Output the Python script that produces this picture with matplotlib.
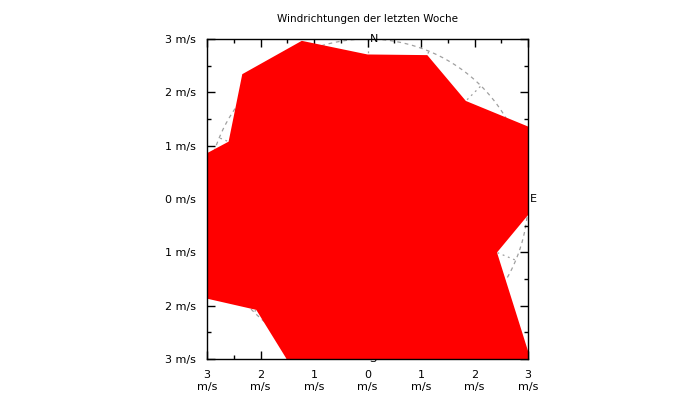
import numpy as np
import matplotlib
matplotlib.use("Agg")
import matplotlib.pyplot as plt

# Windrichtungen (16 Sektoren, im Uhrzeigersinn ab Nord) und mittlere Geschwindigkeit in m/s
richtungen = ["N", "NNO", "NO", "ONO", "O", "OSO", "SO", "SSO",
              "S", "SSW", "SW", "WSW", "W", "WNW", "NW", "NNW"]
winkel = [0, 22.5, 45, 67.5, 90, 112.5, 135, 157.5,
          180, 202.5, 225, 247.5, 270, 292.5, 315, 337.5]
geschw = [2.71, 2.92, 2.60, 3.40, 3.25, 2.62, 4.34, 4.00,
          4.00, 3.53, 2.94, 4.30, 4.60, 2.81, 3.31, 3.21]

himmel = ["N", "E", "S", "W"]
himmel_winkel = [0, 90, 180, 270]

ticks = [-3, -2, -1, 0, 1, 2, 3]
minor_ticks = [-2.5, -1.5, -0.5, 0.5, 1.5, 2.5]
rmax = 3

plt.rcParams["font.family"] = "DejaVu Sans"
plt.rcParams["font.size"] = 8

fig = plt.figure(figsize=(7, 4), dpi=100)
ax = fig.add_axes([207 / 700, 1 - 359 / 400, 321 / 700, 320 / 400])

# Polargitter (Kreise und Strahlen) hinter der Fläche
t = np.radians(np.linspace(0, 360, 361))
for r in [1, 2, 3]:
    ax.plot(r * np.sin(t), r * np.cos(t), color="#a0a0a0",
            lw=0.9, ls=(0, (3, 3)), zorder=1)
for w in winkel:
    a = np.radians(w)
    ax.plot([0, rmax * np.sin(a)], [0, rmax * np.cos(a)], color="#a0a0a0",
            lw=0.9, ls=(0, (1.5, 3)), zorder=1)

# Himmelsrichtungen
for name, w in zip(himmel, himmel_winkel):
    a = np.radians(w)
    ax.text(rmax * np.sin(a) + 0.04, rmax * np.cos(a), name,
            ha="left", va="center", fontsize=8, zorder=1.5)

# Windrose als gefüllte Fläche
a = np.radians(winkel)
g = np.array(geschw)
ax.fill(g * np.sin(a), g * np.cos(a), color="#ff0000", lw=0, zorder=2)

ax.set_xlim(-3, 3)
ax.set_ylim(-3, 3)
ax.set_xticks(ticks)
ax.set_yticks(ticks)
ax.set_xticks(minor_ticks, minor=True)
ax.set_yticks(minor_ticks, minor=True)
ax.set_xticklabels([f"{abs(v)}\nm/s" for v in ticks])
ax.set_yticklabels([f"{abs(v)} m/s" for v in ticks])
ax.tick_params(which="both", direction="in", top=True, right=True,
               width=1, labelsize=8, pad=8)
ax.tick_params(which="major", length=6)
ax.tick_params(which="minor", length=3)
for s in ax.spines.values():
    s.set_linewidth(1)
    s.set_zorder(3)

ax.set_title("Windrichtungen der letzten Woche", fontsize=7.5, pad=12)

fig.savefig("out.png", dpi=100)
